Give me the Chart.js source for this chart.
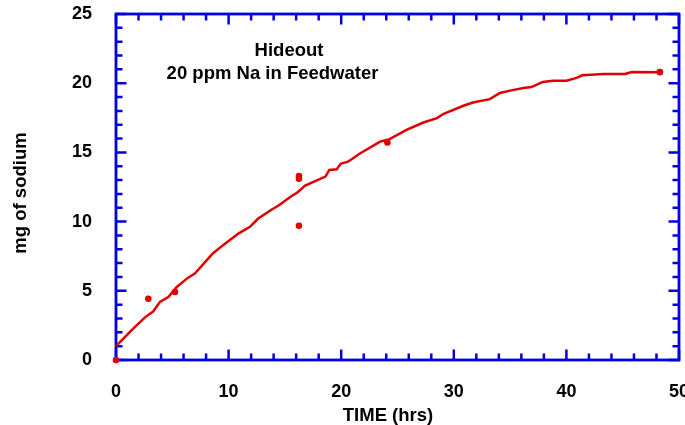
<!DOCTYPE html>
<html><head><meta charset="utf-8">
<script src="https://cdn.jsdelivr.net/npm/chart.js@4"></script>
<style>html,body{margin:0;padding:0;background:#fff}#wrap{width:685px;height:425px}</style>
</head><body><div id="wrap"><canvas id="c" width="685" height="425"></canvas></div>
<script>
// ---- data ----
const curveTime   = [0, 1.5, 2.6, 3.3, 3.9, 4.65, 5.4, 6.4, 7.0, 8.6, 9.5, 10.9, 11.9, 12.6, 13.7, 14.5, 15.5, 16.1, 16.8, 18.6, 18.95, 19.6, 19.95, 20.6, 21.7, 23.45, 24.3, 25.8, 27.3, 28.5, 29.1, 30.85, 31.7, 33.2, 34.1, 35.1, 36.2, 36.9, 37.9, 38.8, 40.0, 40.9, 41.4, 43.3, 45.2, 45.8, 48.3];
const curveSodium = [1.0, 2.25, 3.1, 3.5, 4.2, 4.55, 5.28, 5.95, 6.25, 7.7, 8.3, 9.15, 9.62, 10.2, 10.8, 11.2, 11.8, 12.1, 12.6, 13.25, 13.73, 13.78, 14.17, 14.33, 14.94, 15.78, 15.96, 16.63, 17.16, 17.48, 17.79, 18.37, 18.6, 18.85, 19.29, 19.48, 19.65, 19.72, 20.09, 20.18, 20.18, 20.38, 20.57, 20.67, 20.67, 20.81, 20.8];
const measTime    = [0, 2.87, 5.24, 16.25, 16.25, 16.25, 24.1, 48.3];
const measSodium  = [0, 4.43, 4.91, 9.7, 13.1, 13.3, 15.71, 20.8];
const xTickValues = [0, 10, 20, 30, 40, 50];
const yTickValues = [0, 5, 10, 15, 20, 25];
const xMinorStep = 2;
const yMinorStep = 1;
const titleLines = ['Hideout', '20 ppm Na in Feedwater'];
const xTitle = 'TIME (hrs)';
const yTitle = 'mg of sodium';

const BLUE = '#0000e0', RED = '#e00000';
const FONT_FAMILY = '"Liberation Sans", Arial, Helvetica, sans-serif';

const framePlugin = {
  id: 'frameTicks',
  beforeDatasetsDraw(chart) {
    const {ctx, chartArea: a, scales: {x, y}} = chart;
    ctx.save();
    ctx.strokeStyle = BLUE;
    ctx.lineWidth = 2.5;
    ctx.lineCap = 'butt';
    ctx.beginPath();
    for (let v = x.min; v <= x.max + 1e-9; v += xMinorStep) {
      const px = x.getPixelForValue(v);
      const len = xTickValues.includes(Math.round(v)) ? 10.5 : 6.5;
      ctx.moveTo(px, a.bottom); ctx.lineTo(px, a.bottom - len);
      ctx.moveTo(px, a.top); ctx.lineTo(px, a.top + len);
    }
    for (let v = y.min; v <= y.max + 1e-9; v += yMinorStep) {
      const py = y.getPixelForValue(v);
      const len = yTickValues.includes(Math.round(v)) ? 10.5 : 6.5;
      ctx.moveTo(a.left, py); ctx.lineTo(a.left + len, py);
      ctx.moveTo(a.right, py); ctx.lineTo(a.right - len, py);
    }
    ctx.stroke();
    ctx.lineWidth = 2.8;
    ctx.strokeRect(a.left, a.top, a.right - a.left, a.bottom - a.top);
    ctx.restore();
  },
  afterDraw(chart) {
    const {ctx} = chart;
    ctx.save();
    ctx.fillStyle = '#000';
    ctx.font = 'bold 18.5px ' + FONT_FAMILY;
    ctx.textAlign = 'center';
    ctx.textBaseline = 'alphabetic';
    ctx.fillText(titleLines[0], 289, 56);
    ctx.fillText(titleLines[1], 272.5, 79);
    ctx.fillText(xTitle, 388, 421);
    ctx.translate(26, 193);
    ctx.rotate(-Math.PI / 2);
    ctx.fillText(yTitle, 0, 0);
    ctx.restore();
  }
};

const tickFont = {family: FONT_FAMILY, size: 18, weight: 'bold'};

new Chart(document.getElementById('c'), {
  type: 'scatter',
  data: {
    datasets: [
      {
        data: curveTime.map((t, i) => ({x: t, y: curveSodium[i]})),
        showLine: true, borderColor: RED, borderWidth: 2.5, pointRadius: 0,
        tension: 0, clip: false
      },
      {
        data: measTime.map((t, i) => ({x: t, y: measSodium[i]})),
        showLine: false, backgroundColor: RED, borderColor: RED, pointRadius: 3.3,
        borderWidth: 0, clip: false
      }
    ]
  },
  options: {
    responsive: false,
    devicePixelRatio: 1,
    animation: false,
    layout: {padding: {top: 14, right: 6, left: 0, bottom: 0}},
    plugins: {legend: {display: false}, tooltip: {enabled: false}, title: {display: false}},
    scales: {
      x: {
        type: 'linear', min: 0, max: 50,
        afterBuildTicks: s => { s.ticks = xTickValues.map(v => ({value: v})); },
        afterFit: s => { s.height = 65; s.paddingLeft = 0; s.paddingRight = 0; },
        grid: {display: false, drawTicks: false},
        border: {display: false},
        ticks: {font: tickFont, color: '#000', padding: 21, maxRotation: 0}
      },
      y: {
        type: 'linear', min: 0, max: 25,
        afterBuildTicks: s => { s.ticks = yTickValues.map(v => ({value: v})); },
        afterFit: s => { s.width = 116; s.paddingTop = 0; s.paddingBottom = 0; },
        grid: {display: false, drawTicks: false},
        border: {display: false},
        ticks: {font: tickFont, color: '#000', padding: 24}
      }
    }
  },
  plugins: [framePlugin]
});
</script></body></html>
